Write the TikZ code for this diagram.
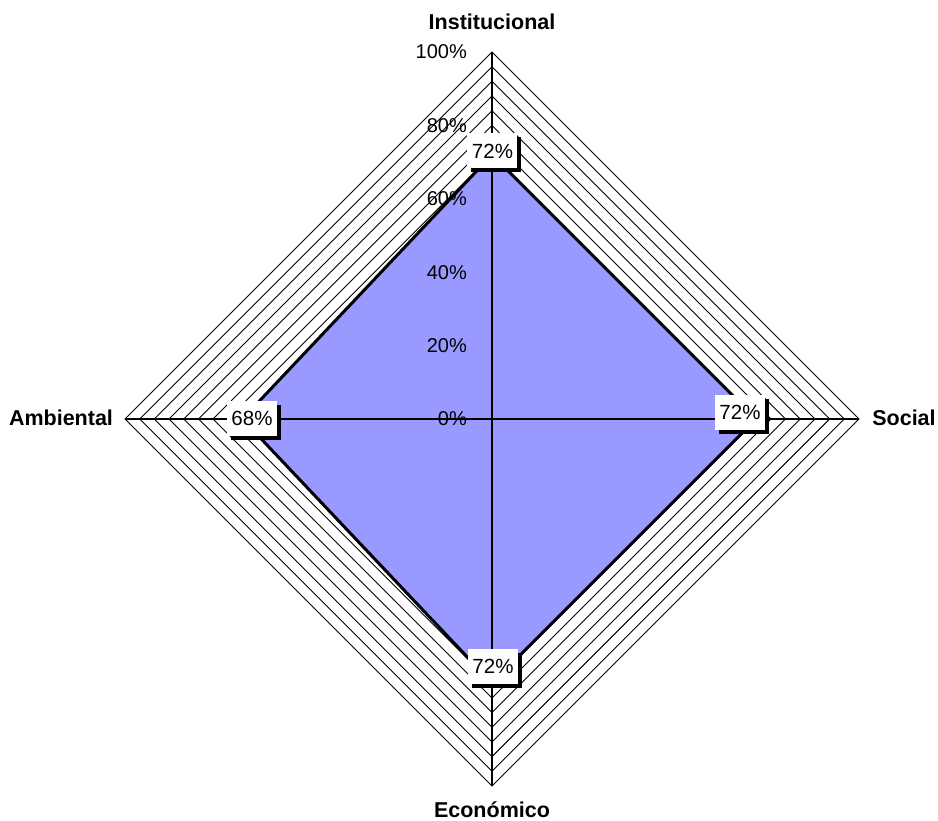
\documentclass[tikz,border=0pt]{standalone}
\usepackage{fontspec}
\setmainfont{Liberation Sans}
\usepackage{xcolor}
\usetikzlibrary{shadows}
\definecolor{serie}{HTML}{9999FF}

\begin{document}
\begin{tikzpicture}[x=1pt,y=1pt]
			\tikzstyle{axistitle} = [font=\fontsize{21.5}{25}\selectfont\bfseries]
			\tikzstyle{pct} = [anchor=east, inner sep=0pt, font=\fontsize{20}{24}\selectfont]
			\tikzstyle{vlabel} = [fill=white, inner sep=0pt, minimum width=50pt, minimum height=35pt, font=\fontsize{20.5}{24}\selectfont, drop shadow={fill=black, opacity=1, shadow xshift=4pt, shadow yshift=-4pt}]
			\tikzset{ring/.style = {draw=black, line width=0.9pt}}
			\tikzset{spoke/.style = {draw=black, line width=1.1pt}}
			
			\useasboundingbox (-492,-402) rectangle (446,419);
			
			% grid
			\foreach \r in {4,8,...,100} {
				\pgfmathsetmacro\d{\r*3.67}
				\draw[ring] (0,\d) -- (\d,0) -- (0,-\d) -- (-\d,0) -- cycle;
			}
			
			\coordinate (centre) at (0,0);
			\coordinate (top) at (0,367);
			\coordinate (right) at (367,0);
			\coordinate (bottom) at (0,-367);
			\coordinate (left) at (-367,0);
			
			% serie
			\coordinate (inst) at (0,264.2);
			\coordinate (soc) at (264.2,0);
			\coordinate (eco) at (0,-264.2);
			\coordinate (amb) at (-249.6,0);
			\draw[fill=serie, line width=3pt, line join=miter] (inst) -- (soc) -- (eco) -- (amb) -- cycle;
			
			\draw[spoke] (centre) -- (top);
			\draw[spoke] (centre) -- (right);
			\draw[spoke] (centre) -- (bottom);
			\draw[spoke] (centre) -- (left);
			
			% scale
			\node[pct](p0) at (-25,0) {0\%};
			\node[pct](p20) at (-25,73.4) {20\%};
			\node[pct](p40) at (-25,146.8) {40\%};
			\node[pct](p60) at (-25,220.2) {60\%};
			\node[pct](p80) at (-25,293.6) {80\%};
			\node[pct](p100) at (-25,367) {100\%};
			
			% values
			\node[vlabel](vinst) at (0.5,268) {72\%};
			\node[vlabel](vsoc) at (248,6.5) {72\%};
			\node[vlabel](veco) at (1,-247.5) {72\%};
			\node[vlabel](vamb) at (-240,0.5) {68\%};
			
			\node[axistitle](tinst) at (0,397) {Institucional};
			\node[axistitle](tsoc) at (412,1) {Social};
			\node[axistitle](teco) at (0,-391) {Económico};
			\node[axistitle](tamb) at (-431,1) {Ambiental};
			
\end{tikzpicture}
\end{document}
